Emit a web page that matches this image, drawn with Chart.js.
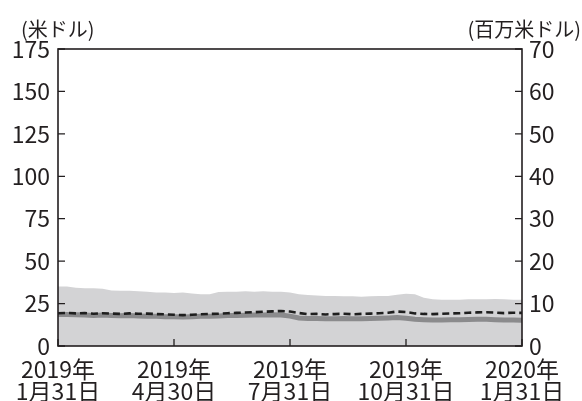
<!DOCTYPE html>
<html>
<head>
<meta charset="utf-8">
<script src="https://cdn.jsdelivr.net/npm/chart.js@4.4.1/dist/chart.umd.min.js"></script>
<style>
  html, body { margin: 0; padding: 0; background: #fff; }
  #wrap { width: 582px; height: 401px; }
</style>
</head>
<body>
<div id="wrap"><canvas id="chart" width="582" height="401"></canvas></div>
<script>
// weekly points, 2019/1/31 .. 2020/1/31
const tickLabels = [
  ['2019年', '1月31日'],
  ['2019年', '4月30日'],
  ['2019年', '7月31日'],
  ['2019年', '10月31日'],
  ['2020年', '1月31日']
];
const tickEvery = 13;

// light grey area, right axis (百万米ドル)
const volume = [
  14.0, 14.0, 13.7, 13.6, 13.6, 13.5, 13.1, 13.0, 13.0, 12.9,
  12.8, 12.6, 12.6, 12.5, 12.6, 12.4, 12.2, 12.2, 12.7, 12.8,
  12.8, 12.9, 12.8, 12.9, 12.8, 12.8, 12.6, 12.2, 12.0, 11.9,
  11.8, 11.8, 11.7, 11.7, 11.6, 11.7, 11.8, 11.8, 12.1, 12.3,
  12.2, 11.4, 11.0, 10.9, 10.9, 10.9, 11.0, 11.0, 11.0, 11.1,
  11.0, 10.9, 10.9
];
// dark grey thick line, left axis (米ドル)
const priceA = [
  18.6, 18.5, 18.4, 18.3, 18.0, 18.2, 18.0, 17.8, 17.9, 17.7,
  17.6, 17.5, 17.3, 17.2, 17.1, 17.3, 17.5, 17.6, 17.7, 17.9,
  18.0, 18.1, 18.2, 18.3, 18.4, 18.3, 17.6, 16.5, 16.2, 16.2,
  16.0, 16.1, 16.2, 16.0, 16.1, 16.2, 16.3, 16.5, 16.8, 16.4,
  15.8, 15.5, 15.3, 15.3, 15.4, 15.5, 15.6, 15.7, 15.7, 15.5,
  15.3, 15.3, 15.2
];
// black dashed line, left axis (米ドル)
const priceB = [
  19.3, 19.5, 19.2, 19.4, 19.0, 19.3, 19.1, 18.9, 19.2, 19.0,
  19.1, 18.8, 18.7, 18.4, 18.2, 18.4, 18.7, 18.9, 19.0, 19.3,
  19.5, 19.7, 19.9, 20.2, 20.4, 20.6, 20.3, 19.4, 18.8, 18.9,
  18.6, 18.8, 19.0, 18.7, 18.9, 19.1, 19.3, 19.6, 20.3, 20.0,
  19.2, 18.9, 18.8, 19.0, 19.2, 19.3, 19.6, 19.8, 19.9, 19.7,
  19.4, 19.6, 19.5
];

const labels = volume.map((v, i) => (i % tickEvery === 0 ? tickLabels[i / tickEvery] : ''));

const FONT = '"Noto Sans CJK JP", "Noto Sans", sans-serif';
const TEXT = '#231f20';

// frame, inward tick marks and unit labels
const framePlugin = {
  id: 'frame',
  afterDraw(chart) {
    const { ctx, chartArea: a, scales } = chart;
    ctx.save();
    ctx.strokeStyle = '#231f20';
    ctx.lineWidth = 1.6;
    ctx.strokeRect(a.left, a.top, a.right - a.left, a.bottom - a.top);
    ctx.lineWidth = 1.3;
    ctx.beginPath();
    scales.y.ticks.forEach(t => {
      const y = scales.y.getPixelForValue(t.value);
      ctx.moveTo(a.left, y); ctx.lineTo(a.left + 7, y);
    });
    scales.y2.ticks.forEach(t => {
      const y = scales.y2.getPixelForValue(t.value);
      ctx.moveTo(a.right, y); ctx.lineTo(a.right - 7, y);
    });
    for (let i = 0; i < labels.length; i += tickEvery) {
      const x = scales.x.getPixelForValue(i);
      ctx.moveTo(x, a.bottom); ctx.lineTo(x, a.bottom - 7);
    }
    ctx.stroke();
    ctx.fillStyle = TEXT;
    ctx.font = '20px ' + FONT;
    ctx.textBaseline = 'middle';
    ctx.textAlign = 'left';
    ctx.fillText('(米ドル)', 21, 29);
    ctx.textAlign = 'right';
    ctx.fillText('(百万米ドル)', 581, 29);
    ctx.restore();
  }
};

new Chart(document.getElementById('chart'), {
  type: 'line',
  data: {
    labels: labels,
    datasets: [
      {
        data: priceB, yAxisID: 'y', borderColor: '#1e1e1e', borderWidth: 2.6,
        borderDash: [7, 4], pointRadius: 0, fill: false, order: 1
      },
      {
        data: priceA, yAxisID: 'y', borderColor: '#8b8b8d', borderWidth: 5,
        pointRadius: 0, fill: false, order: 2
      },
      {
        data: volume, yAxisID: 'y2', borderColor: '#d3d3d5', borderWidth: 0,
        backgroundColor: '#d3d3d5', pointRadius: 0, fill: 'origin', order: 3
      }
    ]
  },
  options: {
    responsive: false,
    animation: false,
    layout: { padding: { top: 49, left: 0, right: 0, bottom: 0 } },
    plugins: { legend: { display: false }, tooltip: { enabled: false } },
    scales: {
      x: {
        type: 'category',
        offset: false,
        grid: { display: false, drawTicks: false },
        border: { display: false },
        ticks: {
          autoSkip: false, maxRotation: 0, padding: 13,
          color: TEXT, font: { family: FONT, size: 23, lineHeight: 0.93 }
        },
        afterFit(s) { s.height = 55; }
      },
      y: {
        position: 'left', min: 0, max: 175,
        grid: { display: false, drawTicks: false },
        border: { display: false },
        ticks: { stepSize: 25, padding: 8, color: TEXT, font: { family: FONT, size: 23 } },
        afterFit(s) { s.width = 58; }
      },
      y2: {
        position: 'right', min: 0, max: 70,
        grid: { display: false, drawTicks: false },
        border: { display: false },
        ticks: { stepSize: 10, padding: 7, color: TEXT, font: { family: FONT, size: 23 } },
        afterFit(s) { s.width = 60; }
      }
    }
  },
  plugins: [framePlugin]
});
</script>
</body>
</html>
